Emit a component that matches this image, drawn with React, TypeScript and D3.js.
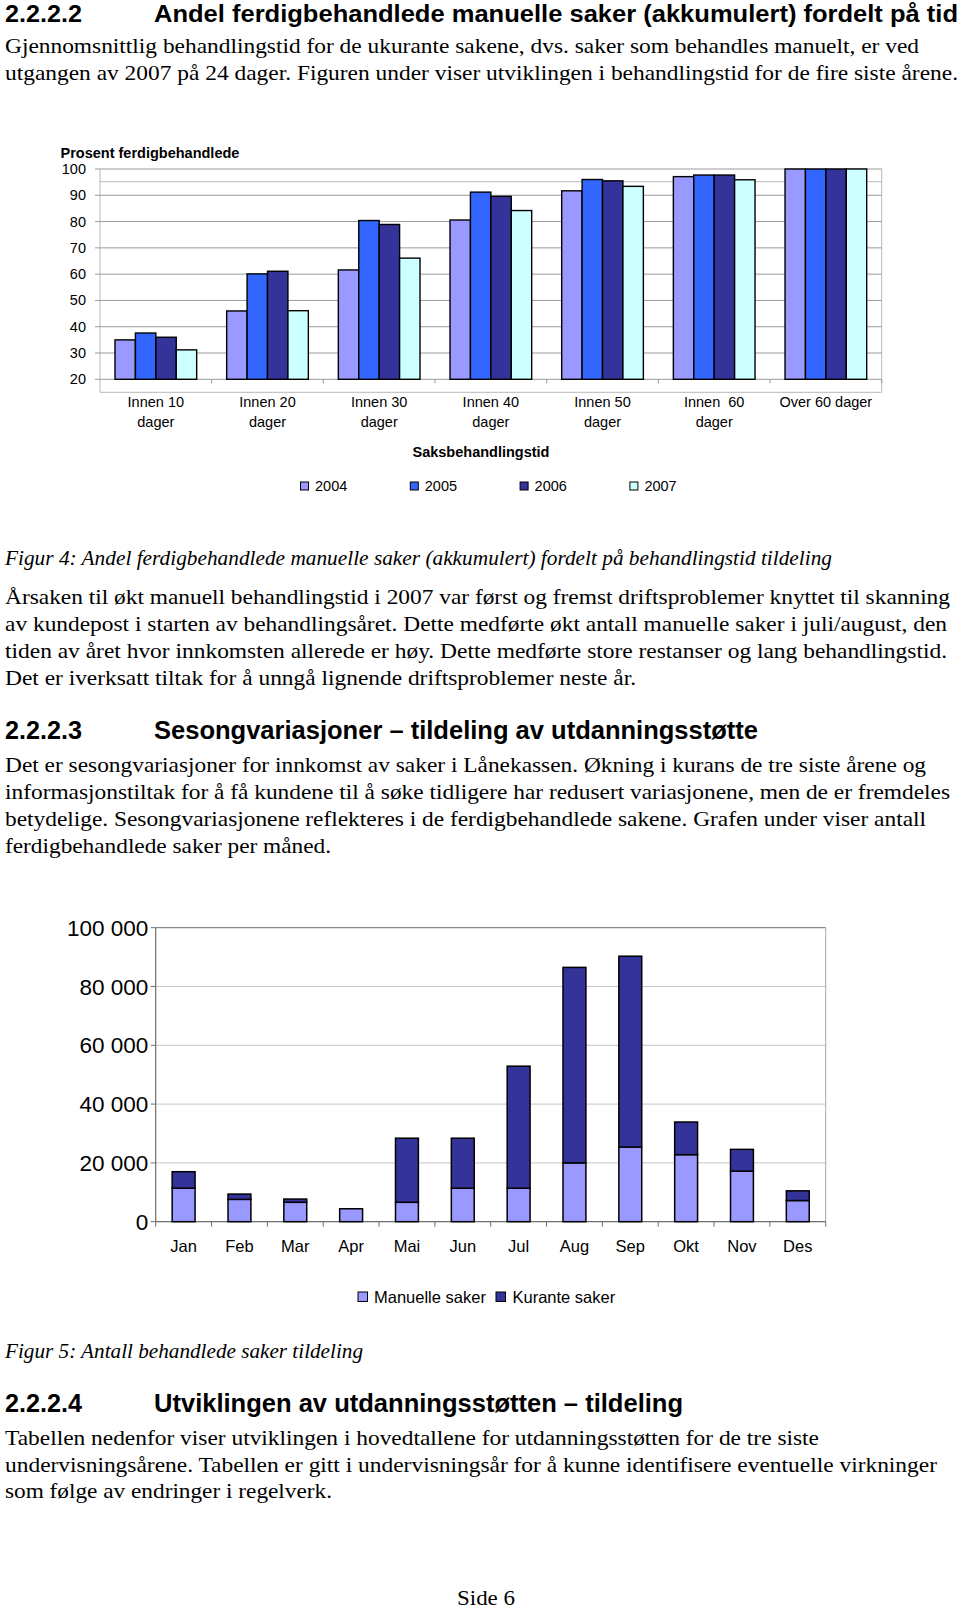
import * as d3 from 'd3';

// Figur 4 data - prosent ferdigbehandlede (akkumulert)
const categoryLines = [
  ['Innen 10', 'dager'],
  ['Innen 20', 'dager'],
  ['Innen 30', 'dager'],
  ['Innen 40', 'dager'],
  ['Innen 50', 'dager'],
  ['Innen  60', 'dager'],
  ['Over 60 dager'],
];
const years = ['2004', '2005', '2006', '2007'];
const pct2004 = [35, 46, 61.6, 80.6, 91.7, 97.1, 100];
const pct2005 = [37.6, 60.1, 80.4, 91.2, 96, 97.7, 100];
const pct2006 = [36, 61.1, 78.9, 89.6, 95.5, 97.7, 100];
const pct2007 = [31.2, 46.1, 66.1, 84.2, 93.4, 95.9, 100];
const pctTicks = [20, 30, 40, 50, 60, 70, 80, 90, 100];

// Figur 5 data - behandlede saker per måned
const months = ['Jan', 'Feb', 'Mar', 'Apr', 'Mai', 'Jun', 'Jul', 'Aug', 'Sep', 'Okt', 'Nov', 'Des'];
const manuelle = [11400, 7600, 6600, 4400, 6600, 11400, 11400, 20000, 25400, 22800, 17200, 7200];
const kurante = [5600, 1800, 1100, 0, 21800, 17000, 41500, 66500, 64900, 11100, 7400, 3300];
const countTicks = [0, 20000, 40000, 60000, 80000, 100000];

const yearColors = ['#9999ff', '#3366ff', '#333399', '#ccffff'];
const stackColors = { manuelle: '#9999ff', kurante: '#333399' };

const SANS = '"Liberation Sans", Arial, sans-serif';
const SERIF = '"Liberation Serif", "Times New Roman", serif';

// text lines of the page: [text, baseline, right edge]
const topLines: [string, number, number][] = [
  ['Gjennomsnittlig behandlingstid for de ukurante sakene, dvs. saker som behandles manuelt, er ved', 53, 919],
  ['utgangen av 2007 på 24 dager. Figuren under viser utviklingen i behandlingstid for de fire siste årene.', 80, 958],
];
const para2: [string, number, number][] = [
  ['Årsaken til økt manuell behandlingstid i 2007 var først og fremst driftsproblemer knyttet til skanning', 604, 950],
  ['av kundepost i starten av behandlingsåret. Dette medførte økt antall manuelle saker i juli/august, den', 631, 947],
  ['tiden av året hvor innkomsten allerede er høy. Dette medførte store restanser og lang behandlingstid.', 658, 947],
  ['Det er iverksatt tiltak for å unngå lignende driftsproblemer neste år.', 685, 636],
];
const para3: [string, number, number][] = [
  ['Det er sesongvariasjoner for innkomst av saker i Lånekassen. Økning i kurans de tre siste årene og', 772, 926],
  ['informasjonstiltak for å få kundene til å søke tidligere har redusert variasjonene, men de er fremdeles', 799, 950],
  ['betydelige. Sesongvariasjonene reflekteres i de ferdigbehandlede sakene. Grafen under viser antall', 826, 926],
  ['ferdigbehandlede saker per måned.', 853, 331],
];
const para4: [string, number, number][] = [
  ['Tabellen nedenfor viser utviklingen i hovedtallene for utdanningsstøtten for de tre siste', 1445, 819],
  ['undervisningsårene. Tabellen er gitt i undervisningsår for å kunne identifisere eventuelle virkninger', 1472, 937],
  ['som følge av endringer i regelverk.', 1498, 332],
];

function Line({ t, x = 5, y, right, size = 21.5, family = SERIF, weight = 'normal', italic = false }: any) {
  return (
    <text
      x={x}
      y={y}
      style={{ fontFamily: family, fontSize: size, fontWeight: weight, fontStyle: italic ? 'italic' : 'normal' }}
      textLength={right - x}
      lengthAdjust="spacingAndGlyphs"
      fill="#000"
    >
      {t}
    </text>
  );
}

function Heading({ num, title, y, right, size = 25.5 }: any) {
  return (
    <g>
      <Line t={num} x={5} y={y} right={82} size={size} family={SANS} weight="bold" />
      <Line t={title} x={154} y={y} right={right} size={size} family={SANS} weight="bold" />
    </g>
  );
}

const sans = (size: number, bold = false) => ({ fontFamily: SANS, fontSize: size, fontWeight: bold ? 'bold' : 'normal' });

function PercentChart() {
  const left = 100;
  const right = 881.7;
  const x0 = d3.scaleBand<number>().domain(d3.range(categoryLines.length)).range([left, right]);
  const x1 = d3.scaleBand<string>().domain(years).range([15, x0.bandwidth() - 15]);
  const y = d3.scaleLinear().domain([20, 100]).range([379.3, 169]);
  const series = [pct2004, pct2005, pct2006, pct2007];
  const frameBottom = 392.3;

  return (
    <g>
      <text x={60.5} y={158} style={sans(14.5, true)}>Prosent ferdigbehandlede</text>
      {/* frame */}
      <line x1={left} x2={left} y1={y(100)} y2={frameBottom} stroke="#b8b8b8" />
      <line x1={right} x2={right} y1={y(100)} y2={frameBottom} stroke="#b8b8b8" />
      <line x1={left} x2={right} y1={frameBottom} y2={frameBottom} stroke="#b8b8b8" />
      <line x1={left} x2={right} y1={181.7} y2={181.7} stroke="#b8b8b8" />
      {pctTicks.map(t => (
        <g key={t}>
          <line x1={left - 5} x2={right} y1={y(t)} y2={y(t)} stroke="#9a9a9a" />
          <text x={86} y={y(t) + 5} textAnchor="end" style={sans(14.5)}>{t}</text>
        </g>
      ))}
      {d3.range(1, categoryLines.length + 1).map(i => (
        <line key={i} x1={left + i * x0.step()} x2={left + i * x0.step()} y1={y(20)} y2={y(20) + 4} stroke="#9a9a9a" />
      ))}
      {categoryLines.map((lines, ci) =>
        series.map((s, si) => {
          const bx = (x0(ci) ?? 0) + (x1(years[si]) ?? 0);
          return (
            <rect
              key={`${ci}-${si}`}
              x={bx}
              y={y(s[ci])}
              width={x1.bandwidth()}
              height={y(20) - y(s[ci])}
              fill={yearColors[si]}
              stroke="#000"
              strokeWidth={1.4}
            />
          );
        })
      )}
      {categoryLines.map((lines, ci) => (
        <text key={ci} textAnchor="middle" style={{ ...sans(14.5), whiteSpace: 'pre' }}>
          {lines.map((l, li) => (
            <tspan key={li} x={(x0(ci) ?? 0) + x0.bandwidth() / 2} y={406.7 + li * 20}>{l}</tspan>
          ))}
        </text>
      ))}
      <text x={481} y={457} textAnchor="middle" style={sans(14.5, true)}>Saksbehandlingstid</text>
      {years.map((yr, i) => (
        <g key={yr} transform={`translate(${300.5 + i * 109.8},482)`}>
          <rect width={8} height={8} fill={yearColors[i]} stroke="#000" strokeWidth={1} />
          <text x={14.5} y={9} style={sans(14.5)}>{yr}</text>
        </g>
      ))}
    </g>
  );
}

function MonthChart() {
  const left = 155.7;
  const right = 825.7;
  const x = d3.scaleBand<string>().domain(months).range([left, right]).paddingInner(0.59).paddingOuter(0.295);
  const y = d3.scaleLinear().domain([0, 100000]).range([1221.7, 927.7]);
  const rows = months.map((m, i) => ({ month: m, manuelle: manuelle[i], kurante: kurante[i] }));
  const stacked = d3.stack<any>().keys(['manuelle', 'kurante'])(rows);
  const fmt = (v: number) => d3.format(',')(v).replace(/,/g, ' ');
  const step = (right - left) / months.length;

  return (
    <g>
      {countTicks.slice(1, -1).map(t => (
        <line key={t} x1={left} x2={right} y1={y(t)} y2={y(t)} stroke="#c4c4c4" />
      ))}
      <line x1={left} x2={right} y1={y(100000)} y2={y(100000)} stroke="#8a8a8a" strokeWidth={1.2} />
      <line x1={right} x2={right} y1={y(100000)} y2={y(0)} stroke="#a8a8a8" />
      <line x1={left} x2={left} y1={y(100000)} y2={y(0)} stroke="#6e6e6e" strokeWidth={1.2} />
      <line x1={left} x2={right} y1={y(0)} y2={y(0)} stroke="#6e6e6e" strokeWidth={1.2} />
      {countTicks.map(t => (
        <g key={t}>
          <line x1={left - 5} x2={left} y1={y(t)} y2={y(t)} stroke="#6e6e6e" />
          <text x={148.3} y={y(t) + 8} textAnchor="end" style={sans(22.5)}>{fmt(t)}</text>
        </g>
      ))}
      {d3.range(0, months.length + 1).map(i => (
        <line key={i} x1={left + i * step} x2={left + i * step} y1={y(0)} y2={y(0) + 5} stroke="#6e6e6e" />
      ))}
      {stacked.map(layer => (
        <g key={layer.key} fill={(stackColors as any)[layer.key]}>
          {layer.map((d, i) =>
            d[1] - d[0] > 0 ? (
              <rect
                key={i}
                x={x(months[i])}
                y={y(d[1])}
                width={x.bandwidth()}
                height={y(d[0]) - y(d[1])}
                stroke="#000"
                strokeWidth={1.5}
              />
            ) : null
          )}
        </g>
      ))}
      {months.map(m => (
        <text key={m} x={(x(m) ?? 0) + x.bandwidth() / 2} y={1251.5} textAnchor="middle" style={sans(16.5)}>{m}</text>
      ))}
      <rect x={358} y={1292} width={9.5} height={9.5} fill={stackColors.manuelle} stroke="#000" />
      <text x={374} y={1302.5} style={sans(16.5)}>Manuelle saker</text>
      <rect x={496} y={1292} width={9.5} height={9.5} fill={stackColors.kurante} stroke="#000" />
      <text x={512.5} y={1302.5} style={sans(16.5)}>Kurante saker</text>
    </g>
  );
}

export default function App() {
  return (
    <div style={{ position: 'absolute', left: 0, top: 0 }}>
      <svg width={960} height={1610} style={{ display: 'block', background: '#fff' }}>
        <Heading num="2.2.2.2" title="Andel ferdigbehandlede manuelle saker (akkumulert) fordelt på tid" y={22} right={958} size={23.5} />
        {topLines.map(([t, yy, r]) => <Line key={t} t={t} y={yy} right={r} />)}
        <PercentChart />
        <Line t="Figur 4: Andel ferdigbehandlede manuelle saker (akkumulert) fordelt på behandlingstid tildeling" y={565} right={832} italic />
        {para2.map(([t, yy, r]) => <Line key={t} t={t} y={yy} right={r} />)}
        <Heading num="2.2.2.3" title="Sesongvariasjoner – tildeling av utdanningsstøtte" y={739} right={758} />
        {para3.map(([t, yy, r]) => <Line key={t} t={t} y={yy} right={r} />)}
        <MonthChart />
        <Line t="Figur 5: Antall behandlede saker tildeling" y={1358} right={363} italic />
        <Heading num="2.2.2.4" title="Utviklingen av utdanningsstøtten – tildeling" y={1411.5} right={683} />
        {para4.map(([t, yy, r]) => <Line key={t} t={t} y={yy} right={r} />)}
        <Line t="Side 6" x={457} y={1605} right={515} />
      </svg>
    </div>
  );
}
